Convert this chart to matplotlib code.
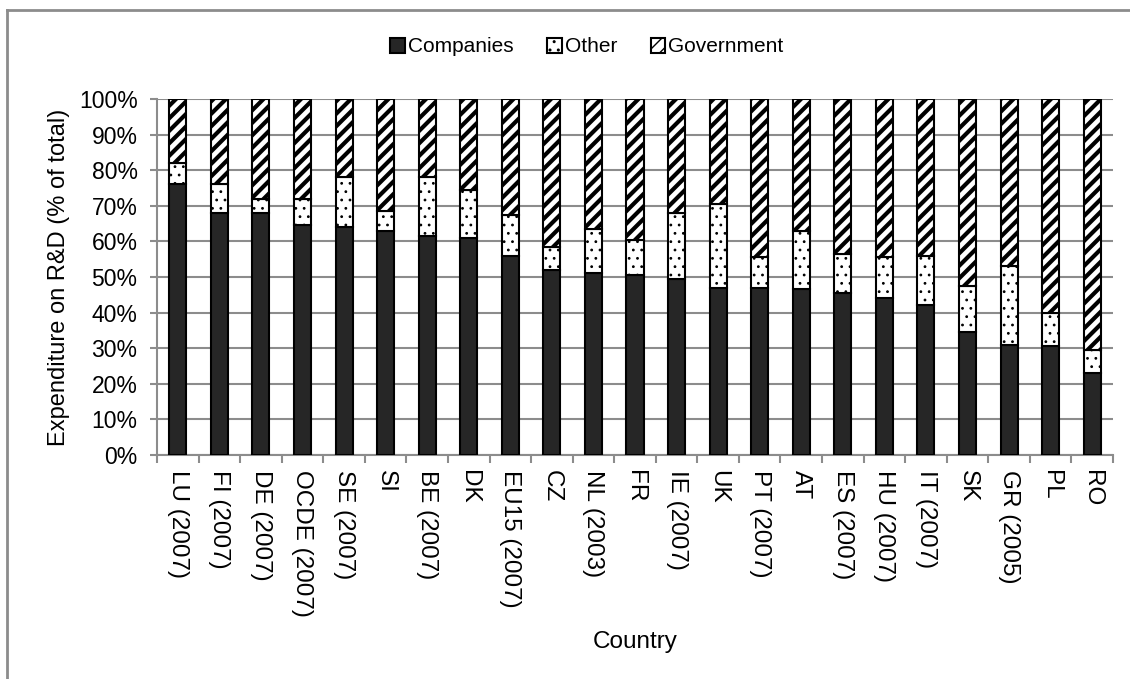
import matplotlib.pyplot as plt
from matplotlib.lines import Line2D
from matplotlib.ticker import PercentFormatter, FixedLocator
import numpy as np

plt.rcParams['font.family'] = ['Liberation Sans', 'DejaVu Sans']

# Datos: reparto del gasto en I+D por país
paises = ['LU (2007)', 'FI (2007)', 'DE (2007)', 'OCDE (2007)', 'SE (2007)', 'SI',
          'BE (2007)', 'DK', 'EU15 (2007)', 'CZ', 'NL (2003)', 'FR', 'IE (2007)',
          'UK', 'PT (2007)', 'AT', 'ES (2007)', 'HU (2007)', 'IT (2007)', 'SK',
          'GR (2005)', 'PL', 'RO']
empresas = [76, 68, 68, 64.5, 64, 63, 61.5, 61, 56, 52, 51, 50.5, 49.5,
            47, 47, 46.5, 45.5, 44, 42, 34.5, 31, 30.5, 23]
otros = [6, 8, 4, 7.5, 14, 5.5, 16.5, 13.5, 11.5, 6.5, 12.5, 10, 18.5,
         23.5, 8.5, 16.5, 11, 11.5, 14, 13, 22, 9.5, 6.5]
gobierno = [100 - e - o for e, o in zip(empresas, otros)]

# dpi alto para que las tramas salgan más espaciadas; tamaños en "pt a 100 dpi" * k
DPI = 150
k = 100 / DPI
gris = '#8c8c8c'

fig = plt.figure(figsize=(1130 / DPI, 679 / DPI), dpi=DPI)
# marco gris del gráfico (arriba e izquierda)
fig.add_artist(Line2D([7 / 1130, 7 / 1130], [0, 1 - 10 / 679], color=gris, lw=2 * k))
fig.add_artist(Line2D([7 / 1130, 1], [1 - 10 / 679, 1 - 10 / 679], color=gris, lw=2 * k))

ax = fig.add_axes([157 / 1130, 1 - 455 / 679, (1113 - 157) / 1130, (455 - 99) / 679])

x = np.arange(len(paises))
ancho = 0.41
b1 = ax.bar(x, empresas, ancho, color='#262626', edgecolor='black', linewidth=1.5 * k,
            label='Companies', zorder=3)
with plt.rc_context({'hatch.linewidth': 0.8 * k}):
    b2 = ax.bar(x, otros, ancho, bottom=empresas, color='white', edgecolor='black',
                linewidth=1.5 * k, hatch='...', label='Other', zorder=3)
base = [e + o for e, o in zip(empresas, otros)]
with plt.rc_context({'hatch.linewidth': 3.0 * k}):
    b3 = ax.bar(x, gobierno, ancho, bottom=base, color='white', edgecolor='black',
                linewidth=1.5 * k, hatch='////', label='Government', zorder=3)
for cont, lw in ((b2, 0.8 * k), (b3, 3.0 * k)):
    for p in cont:
        if hasattr(p, 'set_hatch_linewidth'):
            p.set_hatch_linewidth(lw)

ax.set_xlim(-0.5, len(paises) - 0.5)
ax.set_ylim(0, 100)
ax.set_yticks(np.arange(0, 101, 10))
ax.yaxis.set_major_formatter(PercentFormatter(decimals=0))
ax.set_xticks(x)
ax.set_xticklabels(paises, rotation=-90, fontsize=17.5 * k)
ax.xaxis.set_minor_locator(FixedLocator(np.arange(-0.5, len(paises), 1)))
ax.tick_params(axis='x', which='major', length=0, pad=11 * k)
ax.tick_params(axis='x', which='minor', length=6 * k, color=gris, width=1.5 * k)
ax.tick_params(axis='y', labelsize=16.5 * k, length=5 * k, color=gris, width=1.5 * k,
               pad=9 * k)

ax.grid(axis='y', color=gris, linewidth=1.5 * k, zorder=0)
for s in ['top', 'right']:
    ax.spines[s].set_visible(False)
for s in ['left', 'bottom']:
    ax.spines[s].set_color(gris)
    ax.spines[s].set_linewidth(1.5 * k)

ax.set_ylabel('Expenditure on R&D (% of total)', fontsize=17 * k, labelpad=6 * k)
ax.set_xlabel('Country', fontsize=17.5 * k, labelpad=10 * k)

with plt.rc_context({'hatch.linewidth': 1.0 * k}):
    fig.legend(handles=[b1, b2, b3], loc='center',
               bbox_to_anchor=(587 / 1130, 1 - 47 / 679), ncol=3,
               frameon=False, fontsize=15 * k, handlelength=0.7, handleheight=0.7,
               handletextpad=0.15, columnspacing=1.6, borderaxespad=0)

fig.savefig('out.png', dpi=DPI)
